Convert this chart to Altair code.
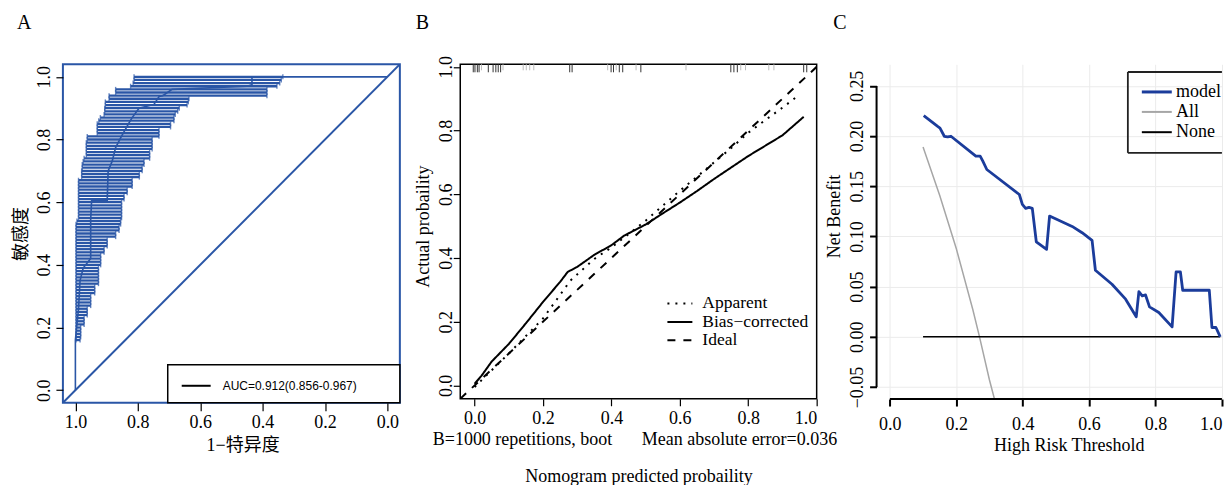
import altair as alt
import pandas as pd

SERIF = "Liberation Serif, Noto Sans CJK SC"
SANS = "Liberation Sans, Arial"
BLUE = "#2a56a6"
DCA_BLUE = "#1b3c9b"

panel_letters = ["A", "B", "C"]

# ---------------- Panel A : ROC with specificity CI bars ----------------
roc_spec = [1.0, 1.0, 0.99, 0.985, 0.975, 0.951, 0.951, 0.948, 0.898, 0.895, 0.882, 0.871,
            0.855, 0.83, 0.818, 0.796, 0.748, 0.732, 0.72, 0.69, 0.45, 0.434, 0.434, 0.0]
roc_sens = [0.0, 0.16, 0.26, 0.35, 0.39, 0.42, 0.545, 0.605, 0.605, 0.70, 0.731, 0.774,
            0.805, 0.85, 0.87, 0.90, 0.912, 0.937, 0.94, 0.96, 0.97, 0.975, 1.0, 1.0]

ci_sens = [1.00, 0.99, 0.98, 0.97, 0.96, 0.95, 0.94, 0.93, 0.92, 0.91,
           0.90, 0.89, 0.88, 0.87, 0.86, 0.85, 0.84, 0.83, 0.82, 0.81,
           0.80, 0.79, 0.78, 0.77, 0.76, 0.75, 0.74, 0.73, 0.72, 0.71,
           0.70, 0.69, 0.68, 0.67, 0.66, 0.65, 0.64, 0.63, 0.62, 0.61,
           0.60, 0.59, 0.58, 0.57, 0.56, 0.55, 0.54, 0.53, 0.52, 0.51,
           0.50, 0.49, 0.48, 0.47, 0.46, 0.45, 0.44, 0.43, 0.42, 0.41,
           0.40, 0.39, 0.38, 0.37, 0.36, 0.35, 0.34, 0.33, 0.32, 0.31,
           0.30, 0.29, 0.28, 0.27, 0.26, 0.25, 0.24, 0.23, 0.22, 0.21,
           0.20, 0.19, 0.18, 0.17, 0.16]
ci_spec_low = [0.335, 0.340, 0.345, 0.354, 0.386, 0.386, 0.386, 0.636, 0.638, 0.642,
               0.667, 0.672, 0.680, 0.684, 0.684, 0.695, 0.695, 0.732, 0.732, 0.732,
               0.754, 0.754, 0.754, 0.754, 0.762, 0.762, 0.762, 0.780, 0.780, 0.786,
               0.786, 0.795, 0.795, 0.818, 0.818, 0.818, 0.834, 0.834, 0.844, 0.844,
               0.852, 0.852, 0.852, 0.852, 0.852, 0.852, 0.855, 0.855, 0.860, 0.860,
               0.871, 0.871, 0.898, 0.898, 0.898, 0.908, 0.908, 0.919, 0.919, 0.919,
               0.919, 0.926, 0.926, 0.926, 0.926, 0.926, 0.926, 0.938, 0.938, 0.938,
               0.951, 0.951, 0.951, 0.951, 0.962, 0.962, 0.962, 0.972, 0.972, 0.972,
               0.983, 0.983, 0.983, 0.983, 0.985]
ci_spec_high = [0.812, 0.812, 0.815, 0.823, 0.871, 0.871, 0.892, 0.892, 0.904, 0.904,
                0.906, 0.906, 0.908, 0.920, 0.925, 0.930, 0.930, 0.930, 0.930, 0.962,
                0.962, 0.965, 0.965, 0.965, 0.965, 0.965, 0.972, 0.975, 0.978, 0.978,
                0.980, 0.980, 0.980, 0.990, 0.990, 0.990, 0.990, 0.990, 0.990, 0.990,
                0.990, 0.990, 0.990, 0.990, 0.990, 0.990, 0.995, 0.998, 0.998, 0.998,
                0.998, 0.998, 0.998, 0.998, 0.998, 0.998, 0.998, 0.998, 0.998, 0.998,
                0.998, 0.998, 0.998, 0.998, 0.998, 0.998, 0.998, 0.998, 0.998, 0.998,
                0.998, 0.998, 0.998, 0.998, 0.998, 0.998, 0.998, 0.998, 0.998, 0.998,
                0.998, 0.998, 0.998, 0.998, 0.998]
diag_spec = [1.04, -0.04]
diag_sens = [-0.04, 1.04]
auc_label = ["AUC=0.912(0.856-0.967)"]
ticks_a = [0.0, 0.2, 0.4, 0.6, 0.8, 1.0]

# ---------------- Panel B : calibration ----------------
app_x = [0.0, 0.1, 0.2, 0.28, 0.35, 0.4, 0.45, 0.5, 0.55, 0.6, 0.65, 0.7, 0.75, 0.8, 0.85, 0.9, 0.948]
app_y = [-0.005, 0.1, 0.21, 0.329, 0.397, 0.433, 0.475, 0.517, 0.564, 0.611, 0.655, 0.70, 0.745,
         0.793, 0.833, 0.872, 0.911]
bc_x = [0.0, 0.02, 0.05, 0.1, 0.15, 0.2, 0.25, 0.272, 0.3, 0.35, 0.4, 0.437, 0.5, 0.55, 0.6,
        0.65, 0.7, 0.8, 0.9, 0.962]
bc_y = [0.005, 0.03, 0.075, 0.13, 0.195, 0.262, 0.325, 0.356, 0.372, 0.41, 0.44, 0.47, 0.505,
        0.54, 0.574, 0.61, 0.648, 0.72, 0.785, 0.843]
ideal_x = [-0.042, 1.0]
ideal_y = [-0.042, 1.0]
rug_dark = [-0.004, 0.001, 0.008, 0.013, 0.04, 0.054, 0.062, 0.069, 0.076, 0.278, 0.285,
            0.399, 0.406, 0.423, 0.433, 0.486, 0.749, 0.758, 0.768, 0.962, 0.971]
rug_light = [0.02, 0.083, 0.142, 0.151, 0.161, 0.173, 0.389, 0.414, 0.472, 0.618, 0.778,
             0.792, 0.86, 0.875]
calib_names = ["Apparent", "Bias\u2212corrected", "Ideal"]
b_notes = ["B=1000 repetitions, boot", "Mean absolute error=0.036"]

# ---------------- Panel C : decision curve ----------------
model_x = [0.102, 0.144, 0.151, 0.164, 0.174, 0.184, 0.259, 0.272, 0.280, 0.292, 0.390, 0.399,
           0.409, 0.419, 0.429, 0.441, 0.472, 0.481, 0.549, 0.579, 0.609, 0.619, 0.669, 0.710,
           0.742, 0.750, 0.760, 0.770, 0.782, 0.810, 0.850, 0.862, 0.875, 0.882, 0.962, 0.970,
           0.982, 0.995]
model_y = [0.2204, 0.2097, 0.208, 0.1998, 0.1991, 0.1998, 0.180, 0.180, 0.175, 0.1667, 0.1418,
           0.132, 0.128, 0.129, 0.128, 0.0947, 0.0871, 0.1203, 0.110, 0.1037, 0.0961, 0.0663,
           0.0524, 0.0375, 0.0199, 0.045, 0.0408, 0.0417, 0.0298, 0.0242, 0.0099, 0.0646,
           0.0646, 0.0464, 0.0464, 0.0093, 0.0093, 0.0]
all_x = [0.10, 0.15, 0.20, 0.25, 0.27, 0.30, 0.315]
all_y = [0.189, 0.141, 0.088, 0.027, 0.0, -0.043, -0.062]
none_x = [0.10, 0.995]
none_y = [0.0, 0.0]
dca_names = ["model", "All", "None"]
ticks_cx = [0.0, 0.2, 0.4, 0.6, 0.8, 1.0]
ticks_cy = [-0.05, 0.0, 0.05, 0.10, 0.15, 0.20, 0.25]

# ======================================================================
common = dict(labelFont=SERIF, titleFont=SERIF, labelFontSize=18, titleFontSize=18,
              titleFontWeight="normal", labelColor="black", titleColor="black",
              tickColor="black", domain=False)


def letter_layer(letter, dx):
    d = pd.DataFrame({"t": [letter]})
    return alt.Chart(d).mark_text(font=SERIF, fontSize=20, align="left", baseline="alphabetic",
                                  color="black").encode(
        x=alt.value(dx), y=alt.value(-35), text="t:N")


# ---------- A ----------
WA, HA = 337.5, 339
xA = alt.Scale(domain=[-0.04, 1.04], reverse=True, nice=False, zero=False)
yA = alt.Scale(domain=[-0.04, 1.04], nice=False, zero=False)
xaxA = alt.Axis(values=ticks_a, format=".1f", title="1\u2212特异度", grid=False, tickSize=8,
                tickWidth=1.2, labelPadding=3, titlePadding=5, titleX=180, **common)
yaxA = alt.Axis(values=ticks_a, format=".1f", title="敏感度", grid=False, tickSize=7,
                tickWidth=1.2, labelAngle=270, labelAlign="center", labelBaseline="alphabetic",
                labelPadding=6, titlePadding=5, **common)

ci_df = pd.DataFrame({"sens": ci_sens, "lo": ci_spec_low, "hi": ci_spec_high})
roc_df = pd.DataFrame({"spec": roc_spec, "sens": roc_sens, "i": range(len(roc_spec))})
diag_df = pd.DataFrame({"spec": diag_spec, "sens": diag_sens})
auc_df = pd.DataFrame({"t": auc_label})

bars = alt.Chart(ci_df).mark_rule(color=BLUE, strokeWidth=2.3).encode(
    x=alt.X("hi:Q", scale=xA, axis=xaxA), x2="lo:Q",
    y=alt.Y("sens:Q", scale=yA, axis=yaxA))
cap_l = alt.Chart(ci_df).mark_tick(color=BLUE, thickness=1.4, size=5, orient="vertical").encode(
    x=alt.X("hi:Q", scale=xA), y=alt.Y("sens:Q", scale=yA))
cap_r = alt.Chart(ci_df).mark_tick(color=BLUE, thickness=1.4, size=5, orient="vertical").encode(
    x=alt.X("lo:Q", scale=xA), y=alt.Y("sens:Q", scale=yA))
roc = alt.Chart(roc_df).mark_line(color=BLUE, strokeWidth=1.6).encode(
    x=alt.X("spec:Q", scale=xA), y=alt.Y("sens:Q", scale=yA), order="i:Q")
diag = alt.Chart(diag_df).mark_line(color=BLUE, strokeWidth=2, clip=True).encode(
    x=alt.X("spec:Q", scale=xA), y=alt.Y("sens:Q", scale=yA))
leg_box = alt.Chart(auc_df).mark_rect(fill="white", stroke="black", strokeWidth=1.5).encode(
    x=alt.value(105), x2=alt.value(WA), y=alt.value(301), y2=alt.value(HA))
leg_line = alt.Chart(auc_df).mark_rule(color="black", strokeWidth=2).encode(
    x=alt.value(119), x2=alt.value(148), y=alt.value(322))
leg_text = alt.Chart(auc_df).mark_text(font=SANS, fontSize=12, align="left", baseline="middle",
                                       color="black").encode(
    x=alt.value(160), y=alt.value(322), text="t:N")

chartA = alt.layer(bars, cap_l, cap_r, roc, diag, leg_box, leg_line, leg_text,
                   letter_layer(panel_letters[0], -46)).properties(
    width=WA, height=HA, view=alt.ViewBackground(stroke=BLUE, strokeWidth=2))

# ---------- B ----------
WB, HB = 357, 335
xB = alt.Scale(domain=[-0.042, 1.0], nice=False, zero=False)
yB = alt.Scale(domain=[-0.042, 1.008], nice=False, zero=False)
xaxB = alt.Axis(values=ticks_a, format=".1f", title="Nomogram predicted probaility", grid=False,
                tickSize=7, tickWidth=1.2, labelPadding=4, titlePadding=40, **common)
yaxB = alt.Axis(values=ticks_a, format=".1f", title="Actual probaility", grid=False, tickSize=7,
                tickWidth=1.2, labelAngle=270, labelAlign="center", labelBaseline="alphabetic",
                labelPadding=2, titlePadding=5, titleY=162, **common)

rows = []
for name, xs, ys in [(calib_names[0], app_x, app_y), (calib_names[1], bc_x, bc_y),
                     (calib_names[2], ideal_x, ideal_y)]:
    for i, (a, b) in enumerate(zip(xs, ys)):
        rows.append({"series": name, "x": a, "y": b, "i": i})
calib_df = pd.DataFrame(rows)
dash_scale = alt.Scale(domain=calib_names, range=[[2, 6], [1, 0], [8, 8]])

lines_b = alt.Chart(calib_df).mark_line(color="black", strokeWidth=2, clip=True).encode(
    x=alt.X("x:Q", scale=xB, axis=xaxB), y=alt.Y("y:Q", scale=yB, axis=yaxB),
    strokeDash=alt.StrokeDash("series:N", scale=dash_scale, legend=None),
    detail="series:N", order="i:Q")
rug_d = alt.Chart(pd.DataFrame({"r": rug_dark})).mark_rule(color="#333333", strokeWidth=1).encode(
    x=alt.X("r:Q", scale=xB), y=alt.value(0), y2=alt.value(8))
rug_l = alt.Chart(pd.DataFrame({"r": rug_light})).mark_rule(color="#bdbdbd", strokeWidth=1).encode(
    x=alt.X("r:Q", scale=xB), y=alt.value(0), y2=alt.value(6))

b_layers = [lines_b, rug_d, rug_l]
leg_ys = [239.5, 258, 276.5]
for k, name in enumerate(calib_names):
    d = pd.DataFrame({"t": [name]})
    b_layers.append(alt.Chart(d).mark_rule(color="black", strokeWidth=2,
                                           strokeDash=[[2, 6], [1, 0], [8, 8]][k]).encode(
        x=alt.value(207.5), x2=alt.value(232.5), y=alt.value(leg_ys[k])))
    b_layers.append(alt.Chart(d).mark_text(font=SERIF, fontSize=17.5, align="left",
                                           baseline="middle", color="black").encode(
        x=alt.value(242.5), y=alt.value(leg_ys[k]), text="t:N"))
note_df = pd.DataFrame({"t": b_notes})
b_layers.append(alt.Chart(note_df.iloc[[0]]).mark_text(
    font=SERIF, fontSize=18, align="left", baseline="alphabetic", color="black").encode(
    x=alt.value(-27.5), y=alt.value(381), text="t:N"))
b_layers.append(alt.Chart(note_df.iloc[[1]]).mark_text(
    font=SERIF, fontSize=18, align="right", baseline="alphabetic", color="black").encode(
    x=alt.value(377.5), y=alt.value(381), text="t:N"))
b_layers.append(letter_layer(panel_letters[1], -44.5))

chartB = alt.layer(*b_layers).properties(
    width=WB, height=HB, view=alt.ViewBackground(stroke="black", strokeWidth=1.5))

# ---------- C ----------
WC, HC = 345.9, 335.3
xC = alt.Scale(domain=[-0.04, 1.0], nice=False, zero=False)
yC = alt.Scale(domain=[-0.062, 0.2715], nice=False, zero=False)
xaxC = alt.Axis(values=ticks_cx, format=".1f", title="High Risk Threshold", grid=True,
                gridColor="#ebebeb", gridWidth=1, tickSize=7, tickWidth=2, labelPadding=9,
                labelFlush=True, titlePadding=4, titleX=192.5, **common)
yaxC = alt.Axis(values=ticks_cy, format=".2f", title="Net Benefit", grid=True,
                gridColor="#ebebeb", gridWidth=1, tickSize=7, tickWidth=2, labelAngle=270,
                labelAlign="center", labelBaseline="alphabetic", labelPadding=7,
                titlePadding=5, titleY=152, **common)

dca_rows = []
for name, xs, ys in [(dca_names[0], model_x, model_y), (dca_names[1], all_x, all_y),
                     (dca_names[2], none_x, none_y)]:
    for i, (a, b) in enumerate(zip(xs, ys)):
        dca_rows.append({"s": name, "x": a, "y": b, "i": i})
dca_df = pd.DataFrame(dca_rows)

base_c = alt.Chart(dca_df).encode(
    x=alt.X("x:Q", scale=xC, axis=xaxC), y=alt.Y("y:Q", scale=yC, axis=yaxC), order="i:Q")
all_line = base_c.transform_filter(alt.datum.s == "All").mark_line(
    color="#a6a6a6", strokeWidth=1.5, clip=True)
none_line = base_c.transform_filter(alt.datum.s == "None").mark_line(
    color="black", strokeWidth=1.6)
model_line = base_c.transform_filter(alt.datum.s == "model").mark_line(
    color=DCA_BLUE, strokeWidth=2.8, strokeJoin="round")

one = pd.DataFrame({"t": ["axis"]})
y_axis_line = alt.Chart(one).mark_rule(color="black", strokeWidth=2).encode(
    x=alt.value(0), y=alt.datum(-0.05, scale=yC), y2=alt.datum(0.25))
x_axis_line = alt.Chart(one).mark_rule(color="black", strokeWidth=2).encode(
    y=alt.value(HC), x=alt.datum(0.0, scale=xC), x2=alt.datum(1.0))

c_layers = [all_line, none_line, model_line, y_axis_line, x_axis_line]
# legend frame (open on the right, cut by the page edge)
c_layers.append(alt.Chart(one).mark_rule(color="#222222", strokeWidth=1.8).encode(
    x=alt.value(251.7), x2=alt.value(WC), y=alt.value(7.7)))
c_layers.append(alt.Chart(one).mark_rule(color="#222222", strokeWidth=1.8).encode(
    x=alt.value(251.7), x2=alt.value(WC), y=alt.value(88.7)))
c_layers.append(alt.Chart(one).mark_rule(color="#222222", strokeWidth=1.8).encode(
    x=alt.value(251.7), y=alt.value(7.7), y2=alt.value(88.7)))
leg_c_y = [27.7, 47.7, 68]
leg_c_col = [DCA_BLUE, "#a6a6a6", "black"]
leg_c_w = [3, 2, 2]
for k, name in enumerate(dca_names):
    d = pd.DataFrame({"t": [name]})
    c_layers.append(alt.Chart(d).mark_rule(color=leg_c_col[k], strokeWidth=leg_c_w[k]).encode(
        x=alt.value(265.7), x2=alt.value(295.7), y=alt.value(leg_c_y[k])))
    c_layers.append(alt.Chart(d).mark_text(font=SERIF, fontSize=18, align="left",
                                           baseline="middle", color="black").encode(
        x=alt.value(300), y=alt.value(leg_c_y[k]), text="t:N"))
c_layers.append(letter_layer(panel_letters[2], -43.5))

chartC = alt.layer(*c_layers).properties(
    width=WC, height=HC, view=alt.ViewBackground(stroke=None))

chart = alt.hconcat(chartA, chartB, chartC, spacing=60, bounds="flush",
                    padding={"left": 4, "top": 4, "right": 0, "bottom": 0},
                    background="white")

chart.save("out.html", embed_options={"renderer": "svg", "actions": False})
